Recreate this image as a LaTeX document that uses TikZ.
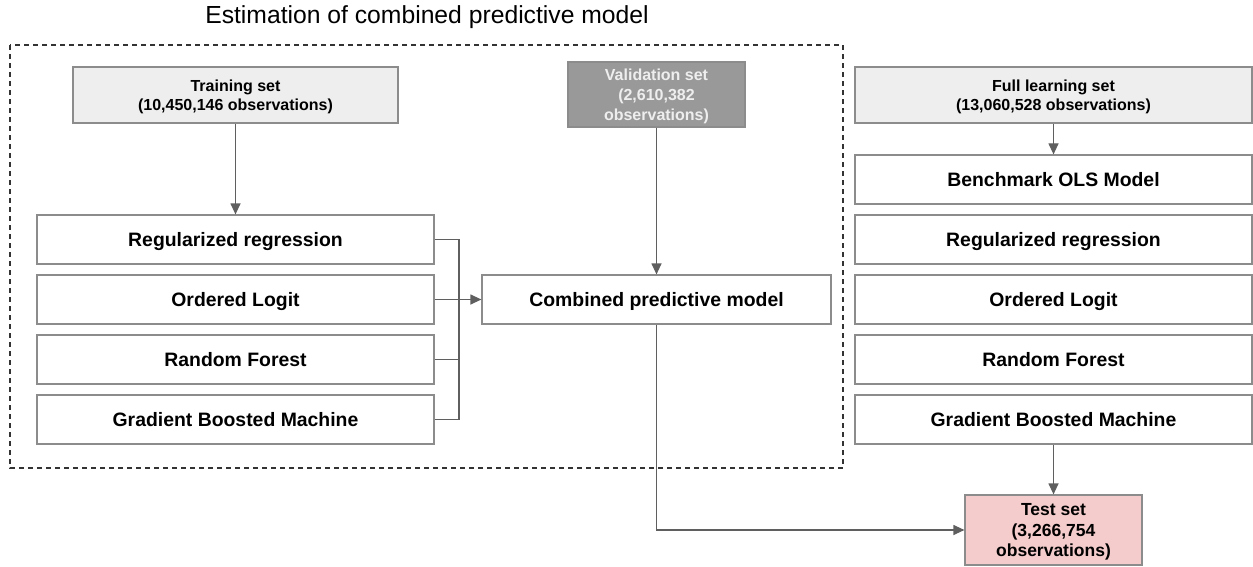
\documentclass[tikz,border=0pt]{standalone}
\usepackage{fontspec}
\setmainfont{Liberation Sans}
\usetikzlibrary{arrows.meta}
\definecolor{boxline}{HTML}{8C8C8C}
\definecolor{conn}{HTML}{5F5F5F}
\definecolor{hdrfill}{HTML}{EEEEEE}
\definecolor{valfill}{HTML}{999999}
\definecolor{testfill}{HTML}{F4CCCC}
\tikzset{
  base/.style={draw=boxline, line width=1.2pt, inner sep=0pt, align=center},
  model/.style={base, fill=white, minimum width=397pt, minimum height=49pt, text height=14pt, text depth=0pt, font=\bfseries\fontsize{19.4}{22}\selectfont},
  hdr/.style={base, fill=hdrfill, minimum width=325pt, minimum height=56pt, text depth=-2pt, font=\bfseries\fontsize{16}{18.5}\selectfont},
  conn/.style={draw=conn, line width=1.2pt, -{Triangle[length=11pt,width=10pt]}},
  plain/.style={draw=conn, line width=1.2pt}
}
\begin{document}
\begin{tikzpicture}[x=1pt,y=-1pt]
\useasboundingbox (0,0) rectangle (1253,567);
% title
\node[font=\fontsize{24.7}{28}\selectfont] (title) at (427,17) {Estimation of combined predictive model};
% dashed frame
\draw[black!80, line width=1.1pt, dash pattern=on 5pt off 4pt] (10,45) rectangle (843,468);
% left side
\node[hdr] (train) at (235.5,95) {Training set\\(10,450,146 observations)};
\node[model] (lreg) at (235.5,239.5) {Regularized regression};
\node[model] (lord) at (235.5,299.5) {Ordered Logit};
\node[model] (lrf) at (235.5,359.5) {Random Forest};
\node[model] (lgbm) at (235.5,419.5) {Gradient Boosted Machine};
% validation
\node[base, fill=valfill, text=hdrfill, minimum width=177pt, minimum height=65pt, text depth=-2.5pt, font=\bfseries\fontsize{16}{20}\selectfont] (val) at (656.5,94.5) {Validation set\\(2,610,382\\observations)};
\node[model, minimum width=349pt] (comb) at (656.5,299.5) {Combined predictive model};
% right side
\node[hdr, minimum width=397pt] (full) at (1053.5,95) {Full learning set\\(13,060,528 observations)};
\node[model] (rbench) at (1053.5,179.5) {Benchmark OLS Model};
\node[model] (rreg) at (1053.5,239.5) {Regularized regression};
\node[model] (rord) at (1053.5,299.5) {Ordered Logit};
\node[model] (rrf) at (1053.5,359.5) {Random Forest};
\node[model] (rgbm) at (1053.5,419.5) {Gradient Boosted Machine};
% test set
\node[base, fill=testfill, minimum width=177pt, minimum height=70pt, text depth=-2.5pt, font=\bfseries\fontsize{17.5}{20.5}\selectfont] (test) at (1053.5,530) {Test set\\(3,266,754\\observations)};
% connectors
\coordinate (bus) at (459,299.5);
\draw[conn] (train.south) -- (lreg.north);
\draw[conn] (val.south) -- (comb.north);
\draw[plain] (lreg.east) -| (bus);
\draw[plain] (lgbm.east) -| (bus);
\draw[plain] (lrf.east) -- (lrf.east -| bus);
\draw[conn] (lord.east) -- (comb.west);
\draw[conn] (comb.south) |- (test.west);
\draw[conn] (full.south) -- (rbench.north);
\draw[conn] (rgbm.south) -- (test.north);
\end{tikzpicture}
\end{document}
